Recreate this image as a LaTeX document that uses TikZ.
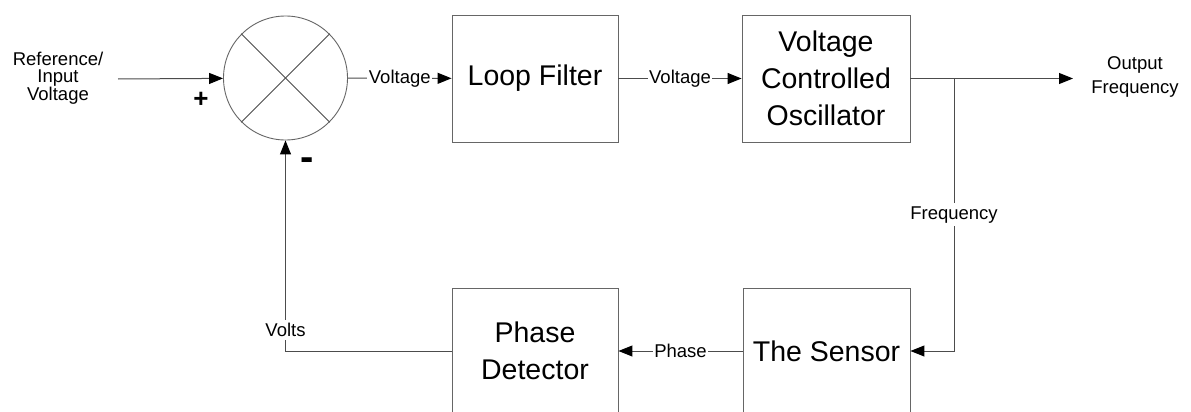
\documentclass[tikz,border=0pt]{standalone}
\usepackage{fontspec}
\setmainfont{Liberation Sans}
\usetikzlibrary{arrows.meta}
\begin{document}
\begin{tikzpicture}[x=1pt,y=-1pt,
  line/.style={draw=black!70, line width=1pt},
  arr/.style={line, -{Triangle[length=14pt,width=11pt,color=black]}},
  blk/.style={draw=black!60, line width=0.9pt, inner sep=0pt,
    font=\fontsize{28.5}{37}\selectfont, align=center},
  lbl/.style={font=\fontsize{18.5}{20}\selectfont, fill=white, inner sep=1.5pt},
  txt/.style={font=\fontsize{18.5}{16.5}\selectfont, align=center, inner sep=0pt},
]
\clip (0,0) rectangle (1191,412);
\fill[white] (0,0) rectangle (1191,412);

% blocks
\node[circle, draw=black!60, line width=0.9pt, minimum size=124pt, inner sep=0pt] (sum) at (285.5,78) {};
\draw[line] (sum.45) -- (sum.225);
\draw[line] (sum.135) -- (sum.-45);
\node[blk, minimum width=166pt, minimum height=127pt] (lf) at (535,78.5) {Loop Filter};
\node[blk, minimum width=168pt, minimum height=127pt] (vco) at (826,78.5) {Voltage\\Controlled\\Oscillator};
\node[blk, minimum width=166pt, minimum height=126pt] (pd) at (535,351) {Phase\\Detector};
\node[blk, minimum width=167pt, minimum height=126pt] (sen) at (826.5,351) {The Sensor};

% texts
\node[txt] (ref) at (58,78.5) {Reference/\\Input\\Voltage};
\node[txt, font=\fontsize{18.5}{23.5}\selectfont] (outf) at (1135,77) {Output\\Frequency};
\node[font=\fontsize{26}{26}\bfseries\selectfont, anchor=base, inner sep=0pt] (plus) at (201,107.3) {+};
\node[font=\fontsize{40}{40}\bfseries\selectfont, anchor=base, inner sep=0pt] (minus) at (307.5,170) {-};

% connectors
\coordinate (in) at (118,79);
\coordinate (out) at (1073,78.5);
\coordinate (br) at (954,78.5);
\draw[arr] (in) -- (sum);
\draw[arr] (sum) -- node[lbl] {Voltage} (lf);
\draw[arr] (lf) -- node[lbl] {Voltage} (vco);
\draw[arr] (vco.east) -- (out);
\draw[arr] (br) |- node[lbl, pos=0.25, inner sep=3pt] {Frequency} (sen.east);
\draw[arr] (sen) -- node[lbl] {Phase} (pd);
\draw[arr] (pd.west) -| node[lbl, pos=0.55, inner sep=3pt] {Volts} (sum.south);
\end{tikzpicture}
\end{document}
